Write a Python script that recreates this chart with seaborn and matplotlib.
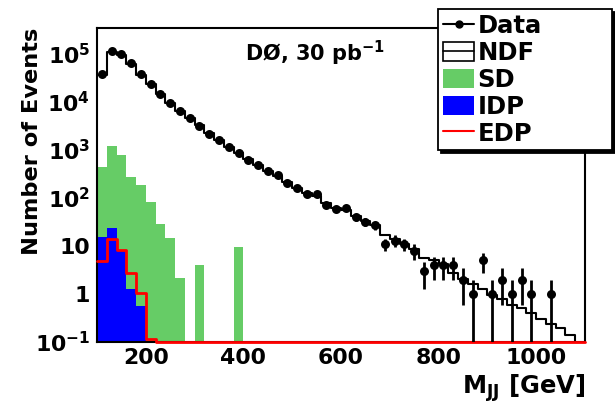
import numpy as np
import pandas as pd
import matplotlib
matplotlib.use("Agg")
import matplotlib.pyplot as plt
import seaborn as sns
from matplotlib.lines import Line2D
from matplotlib.patches import Patch
from matplotlib.ticker import FixedLocator, FixedFormatter, MultipleLocator, LogLocator, NullFormatter

# ---------------- data ----------------
bin_edges = list(range(100, 1101, 20))          # 50 bins of 20 GeV
data_counts = [37800, 115500, 98600, 64000, 37800, 23400, 14900, 9400, 6500, 4580,
               3200, 2190, 1616, 1172, 853, 617, 487, 365, 301, 202,
               164, 119, 119, 72, 58, 61, 40, 32, 27, 11,
               13, 11, 8, 3, 4, 4, 4, 2, 1, 5,
               1, 2, 1, 2, 1, 0, 1, 0, 0, 0]
ndf = [36000, 112000, 97000, 62000, 37000, 23500, 15000, 9600, 6600, 4600,
       3250, 2250, 1620, 1180, 860, 640, 480, 365, 285, 215,
       165, 125, 112, 78, 63, 55, 42, 33, 27, 17,
       14, 11, 8.5, 5.5, 5.0, 4.2, 2.8, 2.1, 1.6, 1.25,
       0.95, 0.78, 0.6, 0.5, 0.4, 0.3, 0.24, 0.2, 0.14, 0]
sd = [450, 1210, 790, 278, 187, 83, 29, 14.5, 2.2, 0,
      4.0, 0, 0, 0, 9.5] + [0] * 35
idp = [15.2, 23.4, 8.0, 1.28, 0.57] + [0] * 45
edp = [4.9, 13.8, 8.3, 2.78, 1.03, 0.115] + [0] * 44

x_ticks = [200, 400, 600, 800, 1000]
x_tick_labels = ["200", "400", "600", "800", "1000"]
y_ticks = [0.1, 1, 10, 100, 1e3, 1e4, 1e5]
y_tick_labels = [r"$\mathbf{10^{-1}}$", "1", "10", r"$\mathbf{10^{2}}$",
                 r"$\mathbf{10^{3}}$", r"$\mathbf{10^{4}}$", r"$\mathbf{10^{5}}$"]
series_names = ["Data", "NDF", "SD", "IDP", "EDP"]

# ---------------- style ----------------
sns.set_theme(style="white")
plt.rcParams["font.family"] = ["DejaVu Sans"]
plt.rcParams["font.weight"] = "bold"
plt.rcParams["mathtext.fontset"] = "dejavusans"
plt.rcParams["axes.linewidth"] = 1.5
plt.rcParams["text.color"] = "black"
plt.rcParams["axes.labelcolor"] = "black"
plt.rcParams["xtick.color"] = "black"
plt.rcParams["ytick.color"] = "black"
plt.rcParams["legend.labelcolor"] = "black"

GREEN = "#66cc66"
BLUE = "#0000ff"
RED = "#ff0000"
FS_TICK = 15.8
FS_LAB = 16.2
FS_XLAB = 17.5
FS_LEG = 17.5
FS_TXT = 15
YMIN, YMAX = 0.1, 3.48e5

fig = plt.figure(figsize=(6.15, 4.07), dpi=100)
ax = fig.add_axes([97 / 615, 1 - 342 / 407, 488 / 615, 314 / 407])
ax.set_yscale("log")

centers = [0.5 * (bin_edges[i] + bin_edges[i + 1]) for i in range(len(bin_edges) - 1)]
df = pd.DataFrame({
    "mjj": centers,
    "data": [float(v) for v in data_counts],
    "ndf": [float(v) for v in ndf],
    "sd": [float(v) for v in sd],
    "idp": [float(v) for v in idp],
    "edp": [float(v) for v in edp],
})
# empty EDP bins are drawn on the frame bottom (as in the original)
df["edp_draw"] = df["edp"].clip(lower=YMIN)

# SD (green filled)
sns.histplot(data=df, x="mjj", weights="sd", bins=bin_edges, element="step", fill=True,
             color=GREEN, alpha=1, linewidth=0, ax=ax)
# IDP (blue filled)
sns.histplot(data=df, x="mjj", weights="idp", bins=bin_edges, element="step", fill=True,
             color=BLUE, alpha=1, linewidth=0, ax=ax)
# EDP (red line)
n_lines = len(ax.lines)
sns.histplot(data=df, x="mjj", weights="edp_draw", bins=bin_edges, element="step", fill=False,
             color=RED, linewidth=2.0, ax=ax)
for ln in ax.lines[n_lines:]:
    ln.set_clip_on(False)
    ln.set_zorder(3)
# NDF (black line)
sns.histplot(data=df, x="mjj", weights="ndf", bins=bin_edges, element="step", fill=False,
             color="black", linewidth=1.5, ax=ax)

# Data points with sqrt(N) errors
dd = df[df["data"] > 0]
ax.errorbar(dd["mjj"], dd["data"], yerr=np.sqrt(dd["data"]), fmt="none", ecolor="black",
            elinewidth=2.0, capsize=0, zorder=4)
sns.scatterplot(data=dd, x="mjj", y="data", color="black", s=42, edgecolor="black",
                linewidth=0, zorder=5, ax=ax)

ax.set_xlim(100, 1100)
ax.set_ylim(YMIN, YMAX)

ax.xaxis.set_major_locator(FixedLocator(x_ticks))
ax.xaxis.set_major_formatter(FixedFormatter(x_tick_labels))
ax.xaxis.set_minor_locator(MultipleLocator(50))
ax.yaxis.set_major_locator(FixedLocator(y_ticks))
ax.yaxis.set_major_formatter(FixedFormatter(y_tick_labels))
ax.yaxis.set_minor_locator(LogLocator(base=10, subs=np.arange(2, 10)))
ax.yaxis.set_minor_formatter(NullFormatter())

ax.tick_params(axis="both", which="both", direction="in", top=False, right=False,
               labelsize=FS_TICK, colors="black")
ax.tick_params(axis="y", which="major", length=9.5, width=1.2, pad=5)
ax.tick_params(axis="y", which="minor", length=5, width=1.0)
ax.tick_params(axis="x", which="major", length=7.5, width=1.2, pad=4)
ax.tick_params(axis="x", which="minor", length=4, width=1.0)
for lab in ax.get_xticklabels() + ax.get_yticklabels():
    lab.set_fontweight("bold")

for sp in ax.spines.values():
    sp.set_color("black")
    sp.set_linewidth(1.5)

ax.set_ylabel("Number of Events", fontsize=FS_LAB, fontweight="bold", loc="top", color="black")
ax.yaxis.set_label_coords(-0.112, 1.0)
ax.set_xlabel(r"$\mathbf{M_{JJ}}$ [GeV]", fontsize=FS_XLAB, fontweight="bold", loc="right", color="black")
ax.xaxis.set_label_coords(1.0, -0.095)

ax.text(0.303, 0.893, r"DØ, 30 pb$^{\mathbf{-1}}$", transform=ax.transAxes,
        fontsize=FS_TXT, fontweight="bold", ha="left", va="baseline", color="black")

handles = [
    Line2D([0], [0], color="black", marker="o", markersize=5, lw=1.5),
    (Patch(facecolor="white", edgecolor="black", linewidth=1.2),
     Line2D([0], [0], color="black", lw=1.2)),
    Patch(facecolor=GREEN, edgecolor="none"),
    Patch(facecolor=BLUE, edgecolor="none"),
    Line2D([0], [0], color=RED, lw=1.5),
]
leg = ax.legend(handles, series_names, loc="upper left",
                bbox_to_anchor=(438 / 615, 0.62, 174 / 615, 1 - 9 / 407 - 0.62),
                bbox_transform=fig.transFigure, mode="expand", borderaxespad=0,
                prop={"family": "DejaVu Sans", "weight": "bold", "size": FS_LEG},
                handlelength=1.3, handleheight=0.85, handletextpad=0.13,
                labelspacing=0.12, borderpad=0.2, fancybox=False,
                shadow={"color": "black", "alpha": 1}, framealpha=1,
                edgecolor="black", numpoints=1, labelcolor="black")
leg.get_frame().set_linewidth(1.3)

fig.savefig("out.png", dpi=100)
